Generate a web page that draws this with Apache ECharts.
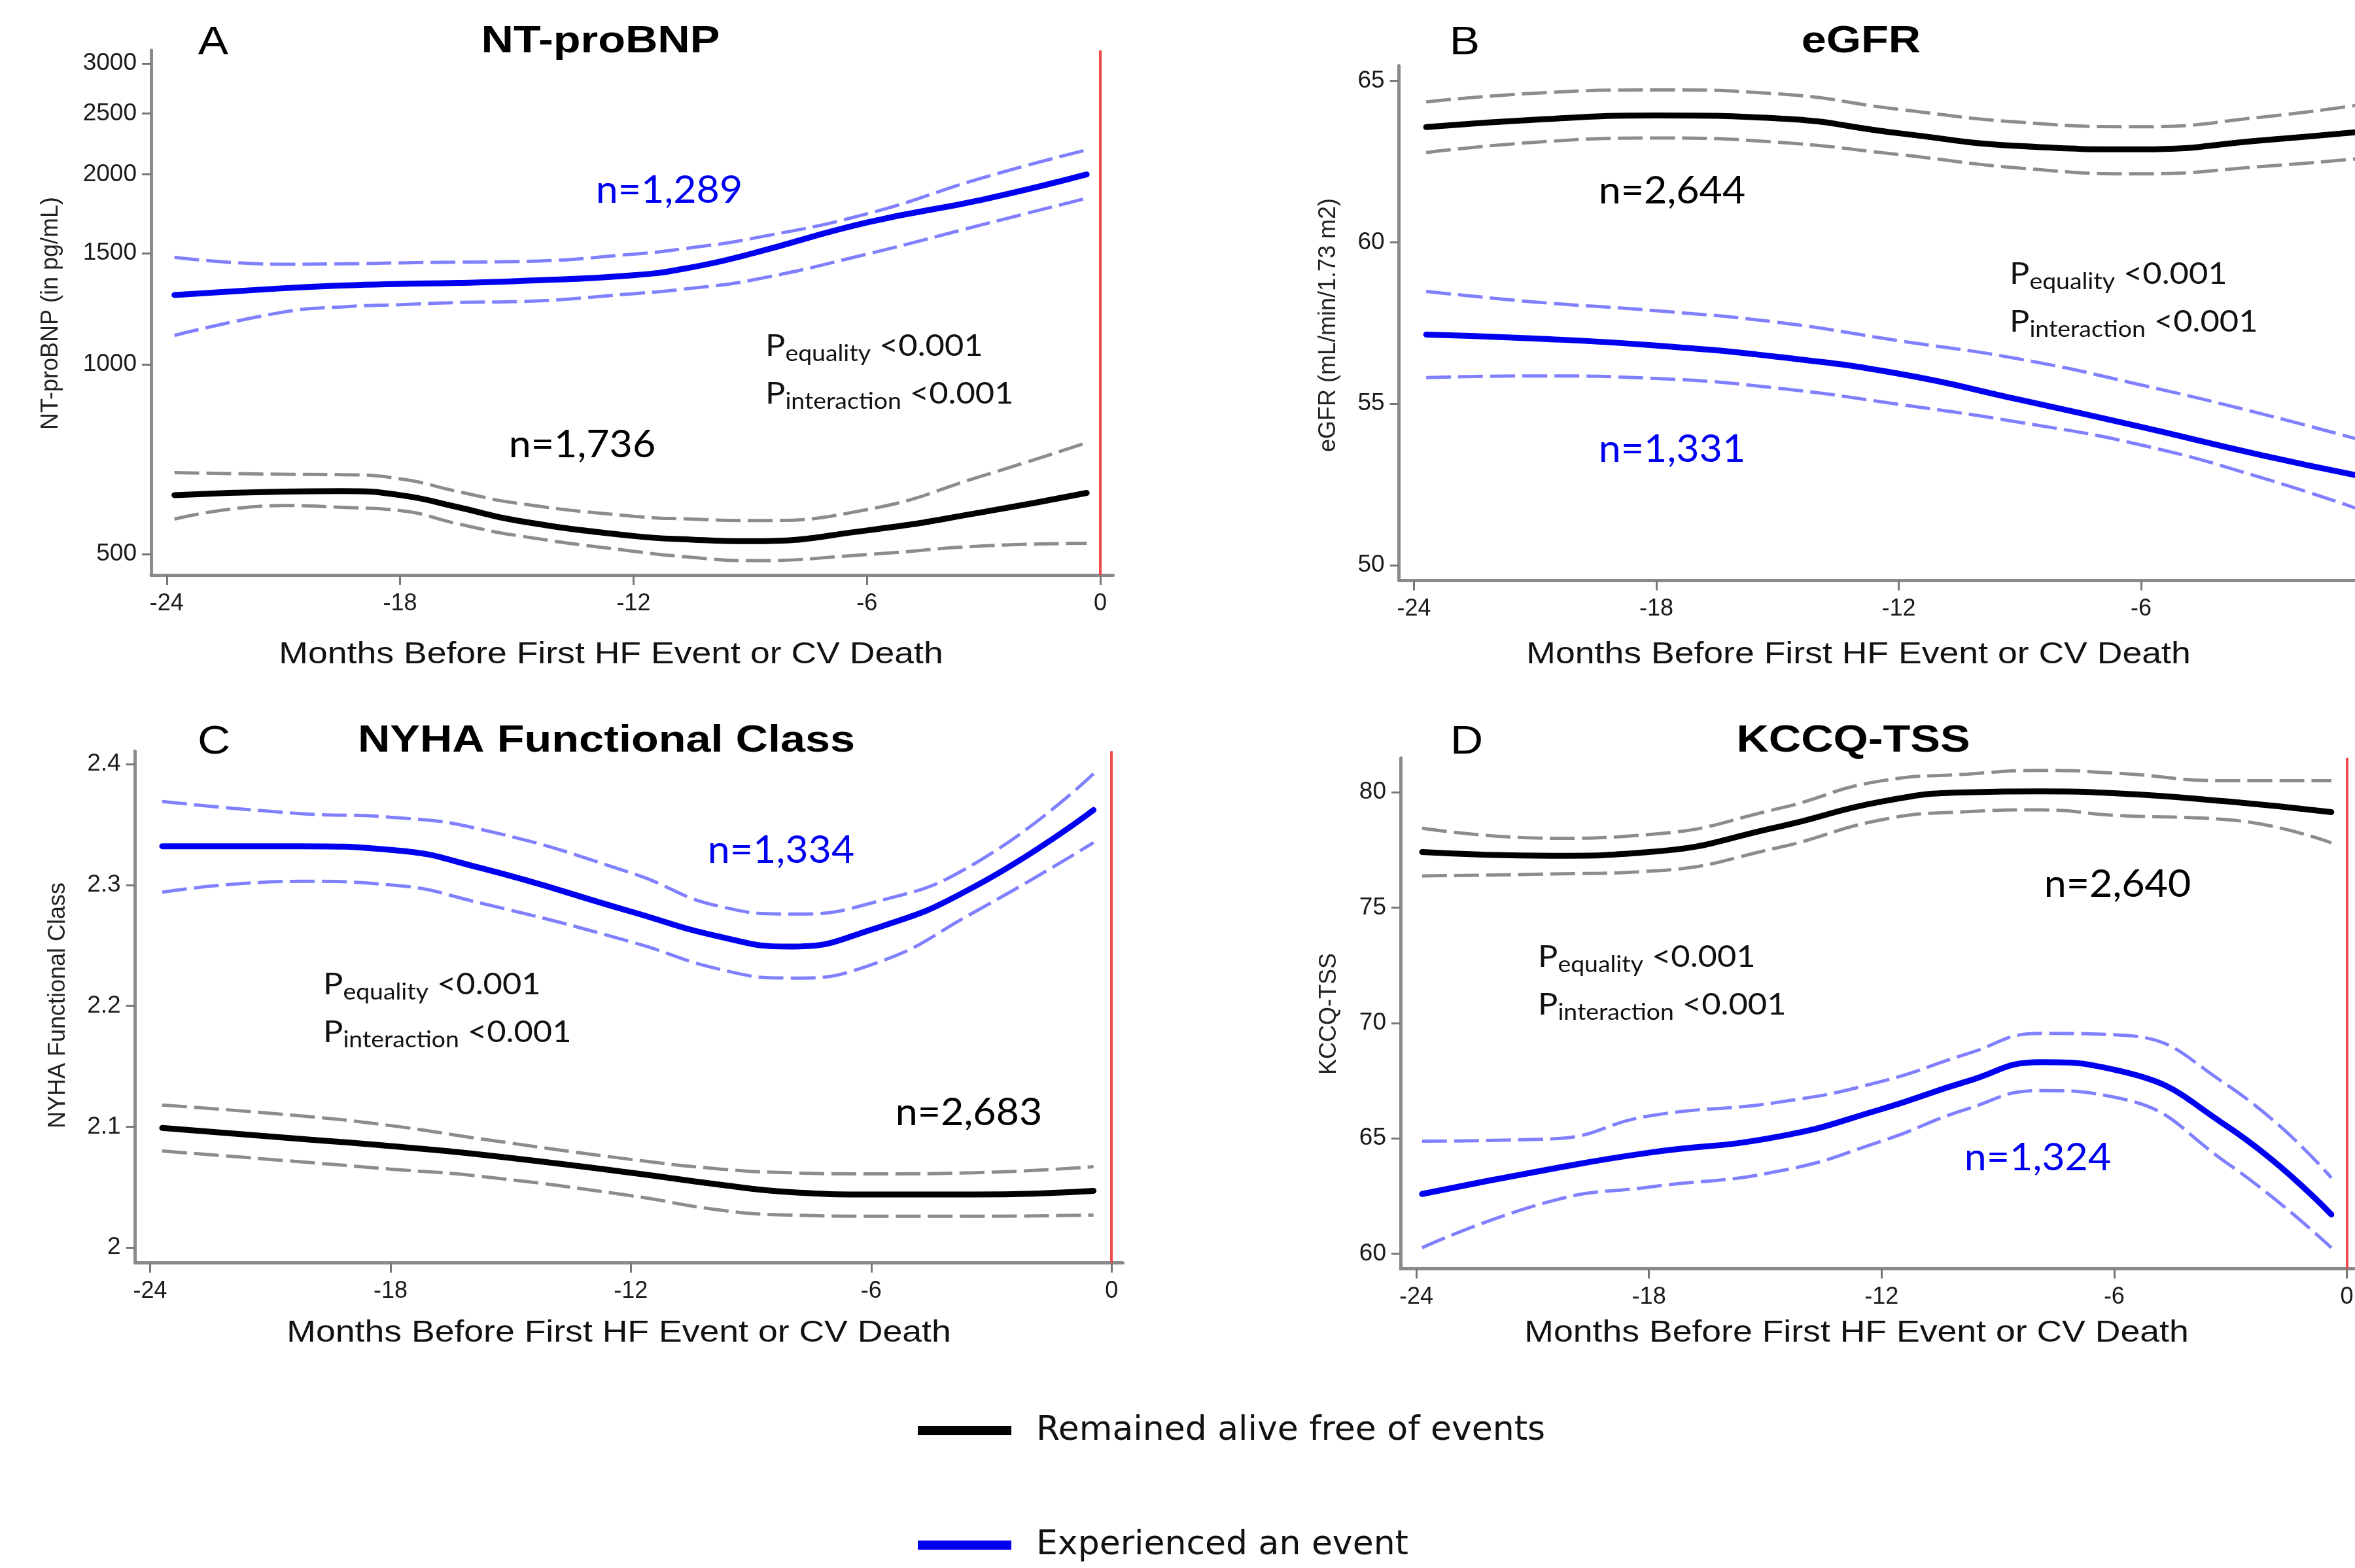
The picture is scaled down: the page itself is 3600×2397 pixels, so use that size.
<!DOCTYPE html>
<html><head><meta charset="utf-8">
<script src="https://cdn.jsdelivr.net/npm/echarts@6/dist/echarts.min.js"></script>
<style>html,body{margin:0;padding:0;background:#fff}#c{width:3600px;height:2397px}</style>
</head><body><div id="c"></div>
<script>
// ---------- DATA ----------
const xTickValues = [-24, -18, -12, -6, 0];
const legendNames = ['Remained alive free of events', 'Experienced an event'];

// Panel A: NT-proBNP (pg/mL, log axis)
const monthsA = [-23.8, -21, -19.5, -18, -16.5, -15, -12, -10.5, -9, -6, -3, -0.35];
const ntEventMid = [1288, 1320, 1333, 1341, 1346, 1355, 1384, 1425, 1496, 1678, 1826, 2000];
const ntEventUp  = [1478, 1441, 1443, 1448, 1452, 1455, 1495, 1531, 1581, 1732, 1978, 2188];
const ntEventLo  = [1111, 1210, 1233, 1243, 1253, 1257, 1294, 1320, 1358, 1495, 1667, 1834];
const ntFreeMid  = [620, 628, 629, 620, 593, 565, 534, 527, 524, 545, 583, 625];
const ntFreeUp   = [673, 669, 668, 658, 628, 602, 574, 568, 565, 588, 666, 751];
const ntFreeLo   = [568, 597, 593, 586, 558, 535, 505, 494, 488, 499, 515, 520];
const ntTicks    = [500, 1000, 1500, 2000, 2500, 3000];

// Panel B: eGFR
const monthsB = [-23.7, -21, -18, -15, -12, -9, -6, -3, -0.35];
const egEventMid = [57.14, 57.02, 56.80, 56.45, 55.93, 55.12, 54.28, 53.40, 52.70];
const egEventUp  = [58.48, 58.15, 57.88, 57.52, 56.95, 56.38, 55.58, 54.68, 53.80];
const egEventLo  = [55.81, 55.86, 55.78, 55.48, 54.98, 54.42, 53.72, 52.70, 51.62];
const egFreeMid  = [63.57, 63.80, 63.93, 63.84, 63.38, 62.98, 62.88, 63.16, 63.45];
const egFreeUp   = [64.35, 64.62, 64.72, 64.60, 64.12, 63.72, 63.58, 63.88, 64.30];
const egFreeLo   = [62.78, 63.10, 63.23, 63.10, 62.72, 62.30, 62.12, 62.35, 62.62];
const egTicks    = [50, 55, 60, 65];

// Panel C: NYHA Functional Class
const monthsC = [-23.7, -20.25, -18, -15.75, -12, -9.75, -8.05, -6, -3.4, -0.45];
const nyEventMid = [2.332, 2.332, 2.329, 2.314, 2.278, 2.257, 2.249, 2.263, 2.299, 2.362];
const nyEventUp  = [2.369, 2.359, 2.356, 2.346, 2.310, 2.282, 2.276, 2.285, 2.318, 2.392];
const nyEventLo  = [2.294, 2.303, 2.300, 2.285, 2.253, 2.230, 2.223, 2.234, 2.278, 2.335];
const nyFreeMid  = [2.099, 2.090, 2.084, 2.077, 2.062, 2.052, 2.046, 2.044, 2.044, 2.047];
const nyFreeUp   = [2.118, 2.109, 2.101, 2.090, 2.073, 2.065, 2.062, 2.061, 2.062, 2.067];
const nyFreeLo   = [2.080, 2.071, 2.065, 2.059, 2.043, 2.031, 2.027, 2.026, 2.026, 2.027];
const nyTicks    = [2, 2.1, 2.2, 2.3, 2.4];

// Panel D: KCCQ-TSS
const monthsD = [-23.85, -20.5, -18, -14.65, -12, -9.8, -7.9, -5.95, -3.05, -0.4];
const kcEventMid = [62.59, 63.68, 64.38, 65.08, 66.27, 67.47, 68.30, 67.96, 65.48, 61.70];
const kcEventUp  = [64.88, 64.98, 65.97, 66.57, 67.47, 68.66, 69.55, 69.49, 67.27, 63.29];
const kcEventLo  = [60.26, 62.29, 62.89, 63.58, 64.88, 66.27, 67.07, 66.77, 63.88, 60.26];
const kcFreeMid  = [77.41, 77.25, 77.41, 78.51, 79.60, 80.00, 80.04, 79.96, 79.60, 79.14];
const kcFreeUp   = [78.45, 78.01, 78.17, 79.30, 80.50, 80.79, 80.95, 80.83, 80.50, 80.50];
const kcFreeLo   = [76.38, 76.46, 76.58, 77.61, 78.81, 79.16, 79.24, 79.00, 78.81, 77.81];
const kcTicks    = [60, 65, 70, 75, 80];

// ---------- STYLE ----------
const FONT = '"Liberation Sans", Arial, Helvetica, sans-serif';
const FONT2 = 'Lato, "Liberation Sans", Arial, sans-serif';
const BLUE = '#0000f0', BLUE_CI = '#8080ff', BLACK = '#000000', GRAY_CI = '#8c8c8c';
const AXIS = '#8a8a8a';

function zip(xs, ys) { return xs.map((x, i) => [x, ys[i]]); }

function lineSeries(gi, name, xs, ys, color, dashed, withRed) {
  const s = {
    type: 'line', name: name, xAxisIndex: gi, yAxisIndex: gi,
    data: zip(xs, ys), smooth: 0.5, symbol: 'none', showSymbol: false,
    z: dashed ? 2 : 3, silent: true,
    itemStyle: { color: color },
    lineStyle: dashed ? { color: color, width: 5, type: [38, 11], cap: 'butt' }
                      : { color: color, width: 9, cap: 'round' }
  };
  if (withRed) {
    s.markLine = {
      silent: true, symbol: ['none', 'none'], animation: false,
      label: { show: false },
      lineStyle: { color: '#ee4b4b', width: 4, type: 'solid' },
      data: [{ xAxis: 0 }]
    };
  }
  return s;
}

function panel(gi, xs, evMid, evUp, evLo, frMid, frUp, frLo) {
  return [
    lineSeries(gi, 'ciFreeUp' + gi, xs, frUp, GRAY_CI, true),
    lineSeries(gi, 'ciFreeLo' + gi, xs, frLo, GRAY_CI, true),
    lineSeries(gi, 'ciEventUp' + gi, xs, evUp, BLUE_CI, true),
    lineSeries(gi, 'ciEventLo' + gi, xs, evLo, BLUE_CI, true),
    lineSeries(gi, legendNames[0], xs, frMid, BLACK, false, true),
    lineSeries(gi, legendNames[1], xs, evMid, BLUE, false)
  ];
}

const grids = [
  { left: 231,    top: 77,     width: 1470.5, height: 802 },
  { left: 2138.7, top: 100.5,  width: 1525.3, height: 787 },
  { left: 206.7,  top: 1148.2, width: 1509.6, height: 782.2 },
  { left: 2141,   top: 1158.7, width: 1464.3, height: 780.8 }
];
const xRanges = [[-24.40, 0.328], [-24.371, 0.33], [-24.374, 0.28], [-24.405, 0.30]];

function xAxis(gi) {
  return {
    gridIndex: gi, type: 'value', min: xRanges[gi][0], max: xRanges[gi][1],
    axisLine: { show: true, onZero: false, lineStyle: { color: AXIS, width: 5 } },
    axisTick: { show: true, length: 15, customValues: xTickValues, lineStyle: { color: '#777', width: 3 } },
    axisLabel: { customValues: xTickValues, fontSize: 36, color: '#1a1a1a', fontFamily: FONT, margin: 26,
                 formatter: v => String(v) },
    splitLine: { show: false }
  };
}
function yAxis(gi, type, min, max, ticks) {
  const a = {
    gridIndex: gi, type: type, min: min, max: max,
    axisLine: { show: true, onZero: false, lineStyle: { color: AXIS, width: 5 } },
    axisTick: { show: true, length: 14, customValues: ticks, lineStyle: { color: '#777', width: 3 } },
    axisLabel: { customValues: ticks, fontSize: 37, color: '#1a1a1a', fontFamily: FONT, margin: 22,
                 formatter: v => String(Math.round(v * 1000) / 1000) },
    splitLine: { show: false }, minorTick: { show: false }
  };
  if (type === 'log') a.logBase = 10;
  return a;
}

// ---------- TEXT ANNOTATIONS ----------
function txt(x, y, text, o) {
  o = o || {};
  return {
    type: 'text', x: x, y: y, scaleX: o.sx || 1, rotation: o.rot || 0, silent: true, z: 10,
    style: {
      text: text, fill: o.color || '#111', fontSize: o.size || 36,
      fontFamily: o.family || FONT, fontWeight: o.weight || 'normal',
      align: o.align || 'center', verticalAlign: 'middle',
      textAlign: o.align || 'center', textVerticalAlign: 'middle'
    }
  };
}
function ptxt(x, y, sub) {
  return {
    type: 'text', x: x, y: y, scaleX: 1.1, silent: true, z: 10,
    style: {
      text: '{p|P}{s|' + sub + '}{p| <0.001}',
      align: 'left', verticalAlign: 'middle', textAlign: 'left', textVerticalAlign: 'middle',
      rich: {
        p: { fontSize: 46, lineHeight: 58, fontFamily: FONT2, fill: '#111', color: '#111' },
        s: { fontSize: 34, lineHeight: 40, verticalAlign: 'bottom', fontFamily: FONT2, fill: '#111', color: '#111' }
      }
    }
  };
}

const titles = [
  ['A', 'NT-proBNP', 326, 918, 64],
  ['B', 'eGFR', 2239, 2845, 64],
  ['C', 'NYHA Functional Class', 327, 927, 1133],
  ['D', 'KCCQ-TSS', 2242, 2833, 1133]
];
const graphics = [];
titles.forEach(t => {
  graphics.push(txt(t[2], t[4] + 2, t[0], { size: 62, sx: 1.12, color: '#000' }));
  graphics.push(txt(t[3], t[4], t[1], { size: 57, sx: 1.2, weight: 'bold', color: '#000' }));
});
const xTitle = 'Months Before First HF Event or CV Death';
[[934, 1001], [2841, 1001], [946, 2038], [2838, 2038]].forEach(p =>
  graphics.push(txt(p[0], p[1], xTitle, { size: 47, sx: 1.14, color: '#111' })));
[['NT-proBNP (in pg/mL)', 78, 479], ['eGFR (mL/min/1.73 m2)', 2031, 497],
 ['NYHA Functional Class', 89, 1537], ['KCCQ-TSS', 2032, 1550]].forEach(p =>
  graphics.push(txt(p[1], p[2], p[0], { size: 36, rot: Math.PI / 2, color: '#222' })));
[['n=1,289', 1023, 291, BLUE], ['n=1,736', 890, 680, '#000'],
 ['n=2,644', 2556, 292, '#000'], ['n=1,331', 2556, 687, BLUE],
 ['n=1,334', 1194, 1300, BLUE], ['n=2,683', 1481, 1701, '#000'],
 ['n=2,640', 3237, 1352, '#000'], ['n=1,324', 3115, 1770, BLUE]].forEach(p =>
  graphics.push(txt(p[1], p[2], p[0], { size: 58, sx: 1.05, color: p[3], family: FONT2 })));
[[1170, 529], [3072, 419], [494, 1505], [2351, 1463]].forEach(p => {
  graphics.push(ptxt(p[0], p[1], 'equality'));
  graphics.push(ptxt(p[0], p[1] + 73, 'interaction'));
});

const option = {
  animation: false,
  backgroundColor: '#ffffff',
  grid: grids.map(g => Object.assign({ containLabel: false, outerBoundsMode: 'none' }, g)),
  xAxis: [0, 1, 2, 3].map(xAxis),
  yAxis: [
    yAxis(0, 'log', 463.1, 3147, ntTicks),
    yAxis(1, 'value', 49.52, 65.47, egTicks),
    yAxis(2, 'value', 1.9875, 2.4107, nyTicks),
    yAxis(3, 'value', 59.35, 81.49, kcTicks)
  ],
  legend: {
    data: legendNames, orient: 'vertical', left: 1398, top: 2152,
    itemWidth: 143, itemHeight: 14, itemGap: 115, icon: 'rect', selectedMode: false,
    textStyle: { fontSize: 52, lineHeight: 60, color: '#111', fontFamily: '"DejaVu Sans", sans-serif', padding: [0, 0, 0, 33] }
  },
  series: [].concat(
    panel(0, monthsA, ntEventMid, ntEventUp, ntEventLo, ntFreeMid, ntFreeUp, ntFreeLo),
    panel(1, monthsB, egEventMid, egEventUp, egEventLo, egFreeMid, egFreeUp, egFreeLo),
    panel(2, monthsC, nyEventMid, nyEventUp, nyEventLo, nyFreeMid, nyFreeUp, nyFreeLo),
    panel(3, monthsD, kcEventMid, kcEventUp, kcEventLo, kcFreeMid, kcFreeUp, kcFreeLo)
  ),
  graphic: { elements: graphics }
};

const chart = echarts.init(document.getElementById('c'), null, { renderer: 'canvas', width: 3600, height: 2397 });
chart.setOption(option);
</script>
</body></html>
